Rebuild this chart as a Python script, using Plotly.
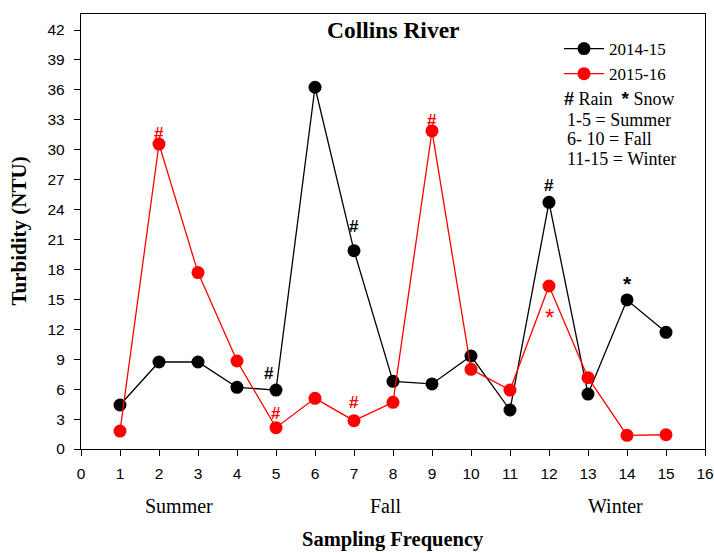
import plotly.graph_objects as go

# ---- data ----
sampling = list(range(1, 16))
turb_2014_15 = [4.41, 8.72, 8.72, 6.18, 5.91, 36.26, 19.88, 6.78, 6.52, 9.32, 3.91, 24.73, 5.51, 14.94, 11.7]
turb_2015_16 = [1.8, 30.57, 17.68, 8.82, 2.14, 5.08, 2.84, 4.68, 31.88, 7.99, 5.91, 16.34, 7.15, 1.37, 1.43]

# precipitation marks: sampling number -> symbol
marks_2014_15 = {5: "#", 7: "#", 12: "#", 14: "*"}
marks_2015_16 = {2: "#", 5: "#", 7: "#", 9: "#", 12: "*"}

seasons = ["Summer", "Fall", "Winter"]
season_x = [2.5, 7.82, 13.7]

x_ticks = list(range(0, 17))
y_ticks = list(range(0, 43, 3))

legend_notes = ["1-5 = Summer", "6- 10 = Fall", "11-15 = Winter"]

SERIF = "Liberation Serif"
SANS = "Liberation Sans"

W, H = 714, 553
ML, MR, MT, MB = 81, 9, 14, 104
PW, PH = W - ML - MR, H - MT - MB


def px_x(p):
    return (p - ML) / PW


def px_y(p):
    return 1 - (p - MT) / PH


fig = go.Figure()
fig.add_trace(go.Scatter(x=sampling, y=turb_2014_15, mode="lines+markers", name="2014-15",
                         line=dict(color="black", width=1.3),
                         marker=dict(color="black", size=13)))
fig.add_trace(go.Scatter(x=sampling, y=turb_2015_16, mode="lines+markers", name="2015-16",
                         line=dict(color="red", width=1.3),
                         marker=dict(color="red", size=13)))

annotations = []
# symbol offsets (px) relative to the marker centre
shift_black = {5: (-7, 17), 7: (0, 24), 12: (0, 17), 14: (0, 16)}
shift_red = {2: (0, 11), 5: (0, 14), 7: (0, 18), 9: (0, 10), 12: (0, -32)}
for k, s in marks_2014_15.items():
    dx, dy = shift_black[k]
    annotations.append(dict(x=k, y=turb_2014_15[k - 1], xref="x", yref="y", text="<b>" + s + "</b>",
                            showarrow=False, xshift=dx, yshift=dy, yanchor="middle",
                            font=dict(family=SANS, size=17 if s == "#" else 21, color="black")))
for k, s in marks_2015_16.items():
    dx, dy = shift_red[k]
    annotations.append(dict(x=k, y=turb_2015_16[k - 1], xref="x", yref="y",
                            text="<b>" + s + "</b>" if s == "#" else s,
                            showarrow=False, xshift=dx, yshift=dy, yanchor="middle",
                            font=dict(family=SANS, size=17 if s == "#" else 24, color="red")))

for sx, sname in zip(season_x, seasons):
    annotations.append(dict(x=sx, y=0, xref="x", yref="paper", text=sname, showarrow=False,
                            yshift=-57, yanchor="middle", font=dict(family=SERIF, size=20, color="black")))

# chart title
annotations.append(dict(x=0.5, y=1, xref="paper", yref="paper", yshift=-(30 - MT), yanchor="middle",
                        xanchor="center", text="<b>Collins River</b>", showarrow=False,
                        font=dict(family=SERIF, size=23.5, color="black")))
# axis titles
annotations.append(dict(x=0.5, y=0, xref="paper", yref="paper", yshift=-(539 - (H - MB)), yanchor="middle",
                        xanchor="center", text="<b>Sampling Frequency</b>", showarrow=False,
                        font=dict(family=SERIF, size=20.5, color="black")))
annotations.append(dict(x=0, y=0.5, xref="paper", yref="paper", xshift=18 - ML, xanchor="center",
                        yanchor="middle", textangle=-90, text="<b>Turbidity (NTU)</b>", showarrow=False,
                        font=dict(family=SERIF, size=21, color="black")))

# legend note block
annotations.append(dict(x=px_x(562), y=px_y(99), xref="paper", yref="paper", xanchor="left", yanchor="middle",
                        text="<b><span style='font-family:Liberation Sans'>#</span></b> Rain  "
                             "<span style='font-size:19px;font-family:Liberation Sans'><b>*</b></span> Snow",
                        showarrow=False, height=17, valign="middle",
                        font=dict(family=SERIF, size=18, color="black")))
for i, (t, py) in enumerate(zip(legend_notes, [119, 138, 158])):
    annotations.append(dict(x=px_x(565), y=px_y(py), xref="paper", yref="paper",
                            xanchor="left", yanchor="middle", text=t, showarrow=False,
                            height=17, valign="middle",
                            font=dict(family=SERIF, size=18, color="black")))

axis_common = dict(showgrid=False, zeroline=False, showline=True, linecolor="black", linewidth=1.3,
                   mirror=True, ticks="outside", ticklen=6, tickcolor="black", tickwidth=1.2,
                   tickfont=dict(family=SANS, size=15.5, color="black"), automargin=False)

fig.update_layout(
    width=W, height=H,
    margin=dict(l=ML, r=MR, t=MT, b=MB),
    paper_bgcolor="white", plot_bgcolor="white",
    showlegend=True,
    legend=dict(x=px_x(559), y=px_y(31), xanchor="left", yanchor="top", bgcolor="rgba(0,0,0,0)",
                font=dict(family=SERIF, size=17, color="black"), tracegroupgap=0, itemwidth=40),
    annotations=annotations,
    xaxis=dict(range=[0, 16], tickvals=x_ticks, ticktext=[str(v) for v in x_ticks],
               ticklabelstandoff=4, **axis_common),
    yaxis=dict(range=[0, (H - MB - MT) / 9.976], tickvals=y_ticks, ticktext=[str(v) for v in y_ticks],
               ticklabelstandoff=6, **axis_common),
)

fig.write_html("out.html", config={"displayModeBar": False},
               post_script="document.body.style.margin='0';document.body.style.padding='0';")
